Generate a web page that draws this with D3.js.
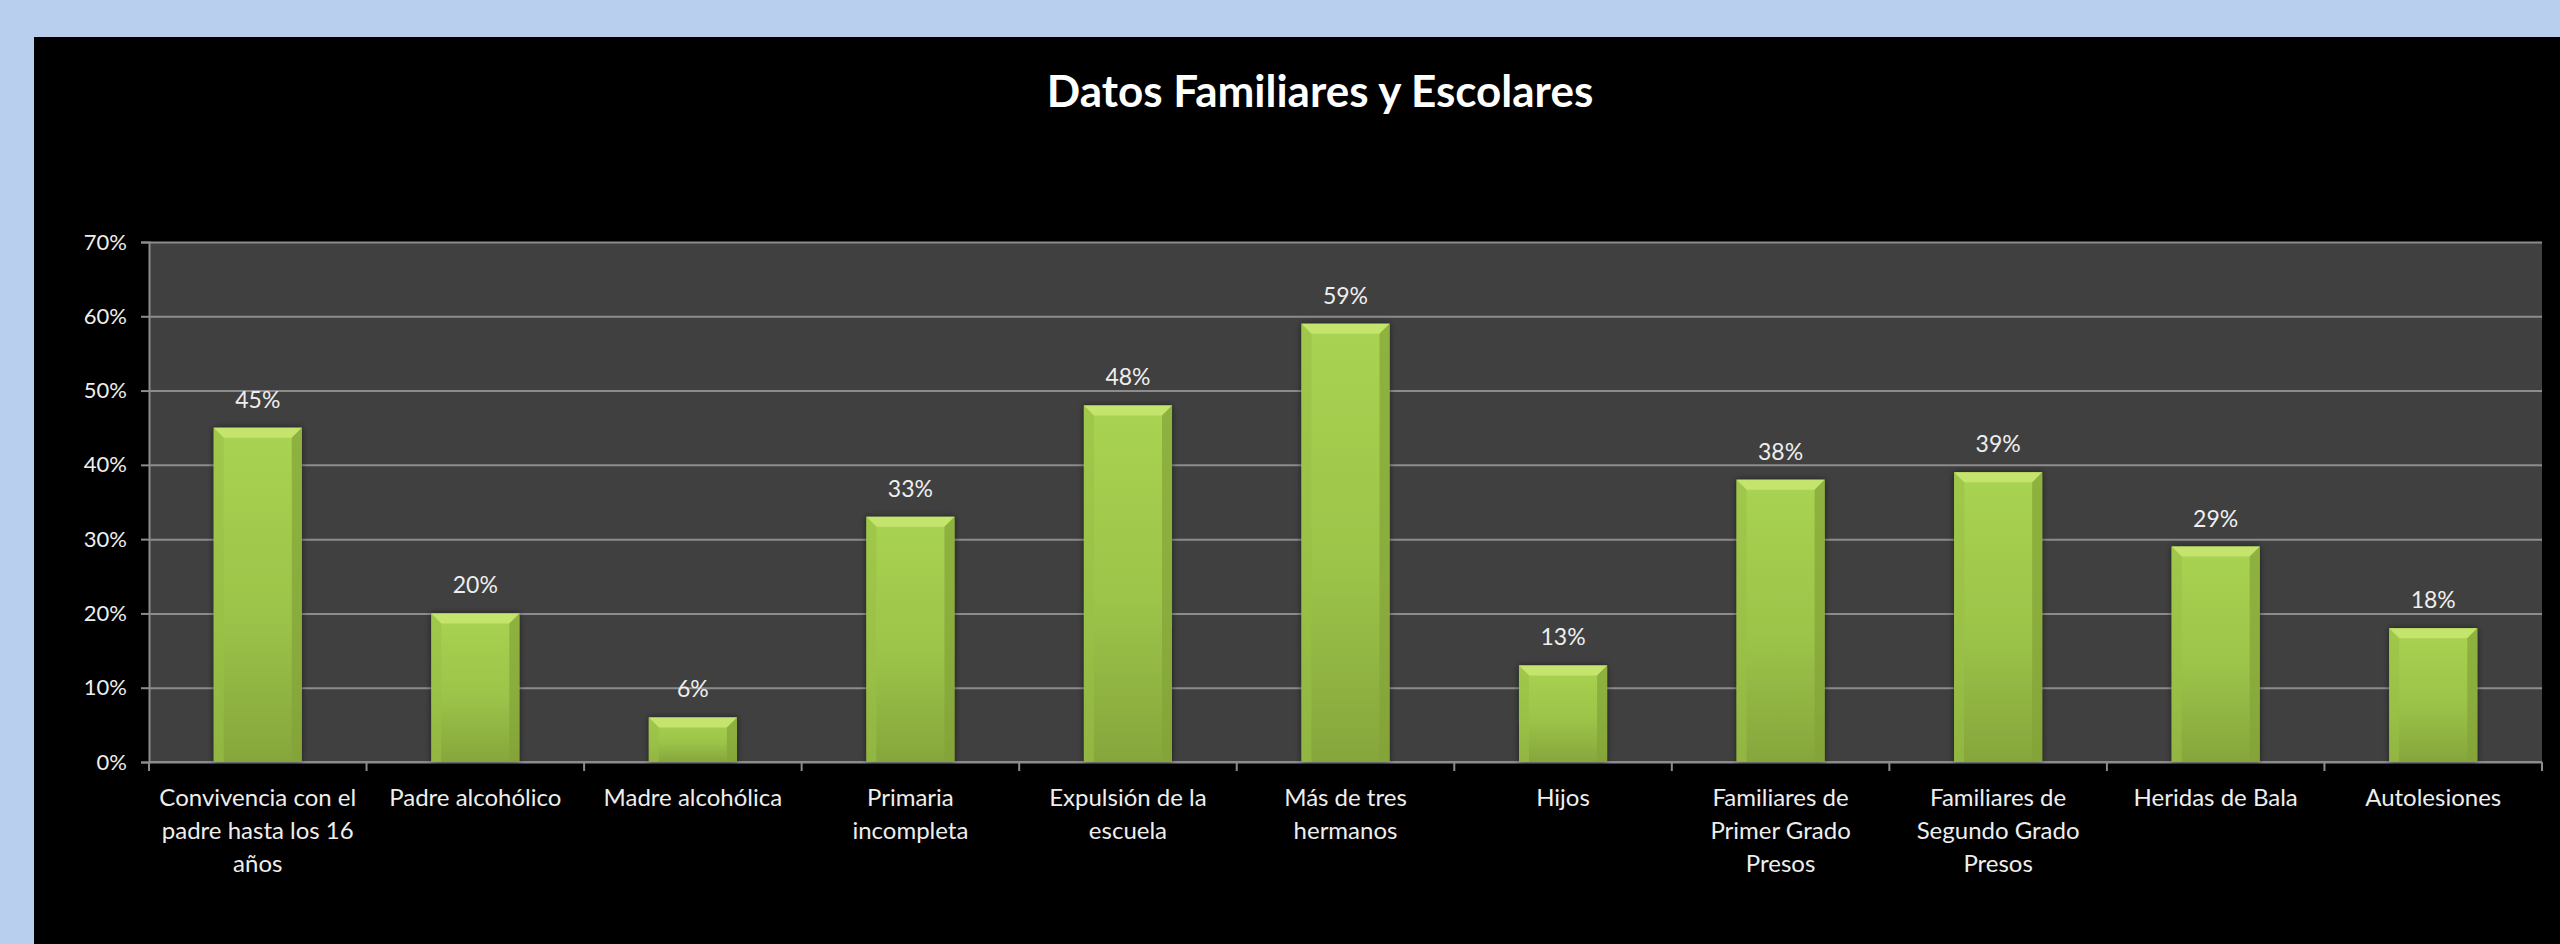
<!DOCTYPE html>
<html>
<head>
<meta charset="utf-8">
<script src="https://cdn.jsdelivr.net/npm/d3@7"></script>
<style>
  body { margin: 0; background: #b9cfee; }
  svg { display: block; }
</style>
</head>
<body>
<script>
const categories = [
  "Convivencia con el padre hasta los 16 años",
  "Padre alcohólico",
  "Madre alcohólica",
  "Primaria incompleta",
  "Expulsión de la escuela",
  "Más de tres hermanos",
  "Hijos",
  "Familiares de Primer Grado Presos",
  "Familiares de Segundo Grado Presos",
  "Heridas de Bala",
  "Autolesiones"
];
const values = [45, 20, 6, 33, 48, 59, 13, 38, 39, 29, 18];
const yTicks = [0, 10, 20, 30, 40, 50, 60, 70];
const title = "Datos Familiares y Escolares";

const w = 2560;
const h = 944;
const plotLeft = 149, plotRight = 2542, plotTop = 242, plotBottom = 762;
const font = "Lato, 'Open Sans', sans-serif";

const svg = d3.select("body")
  .append("svg")
  .attr("width", w)
  .attr("height", h);

// blue frame on top/left, black panel
svg.append("rect").attr("width", w).attr("height", h).attr("fill", "#b9cfee");
svg.append("rect")
  .attr("x", 34).attr("y", 37)
  .attr("width", w - 34).attr("height", h - 37)
  .attr("fill", "#000");

const defs = svg.append("defs");
const grad = defs.append("linearGradient")
  .attr("id", "barGrad")
  .attr("x1", 0).attr("y1", 0).attr("x2", 0).attr("y2", 1);
grad.append("stop").attr("offset", "0%").attr("stop-color", "#a9d352");
grad.append("stop").attr("offset", "55%").attr("stop-color", "#9cc449");
grad.append("stop").attr("offset", "100%").attr("stop-color", "#86a63c");

const shadow = defs.append("filter").attr("id", "shadow")
  .attr("x", "-20%").attr("y", "-20%").attr("width", "140%").attr("height", "140%");
shadow.append("feDropShadow")
  .attr("dx", 0).attr("dy", 0).attr("stdDeviation", 3)
  .attr("flood-color", "#000").attr("flood-opacity", 0.55);

const x = d3.scaleBand()
  .domain(categories)
  .range([plotLeft, plotRight])
  .paddingInner(0.595)
  .paddingOuter(0.2975);

const y = d3.scaleLinear()
  .domain([0, 70])
  .range([plotBottom, plotTop]);

// plot area
svg.append("rect")
  .attr("x", plotLeft).attr("y", y(70))
  .attr("width", plotRight - plotLeft).attr("height", y(0) - y(70))
  .attr("fill", "#404040");

// gridlines
svg.append("g")
  .attr("transform", "translate(" + plotLeft + ",0)")
  .call(d3.axisLeft(y).tickValues(yTicks).tickSize(-(plotRight - plotLeft)).tickFormat(""))
  .call(g => g.select(".domain").remove())
  .call(g => g.selectAll("line").attr("stroke", "#8c8c8c").attr("stroke-width", 2));

// y axis
const yAxis = svg.append("g")
  .attr("transform", "translate(" + plotLeft + ",0)")
  .call(d3.axisLeft(y).tickValues(yTicks).tickSize(8).tickPadding(14).tickFormat(d => d + "%"));
yAxis.select(".domain").attr("stroke", "#8c8c8c").attr("stroke-width", 2);
yAxis.selectAll("line").attr("stroke", "#8c8c8c").attr("stroke-width", 2);
yAxis.selectAll("text")
  .attr("fill", "#eeeeee")
  .style("font-family", font)
  .style("font-size", "22px");

// x axis line and ticks at category boundaries
const step = x.step();
const edges = categories.map(c => x(c) - (step - x.bandwidth()) / 2).concat([plotRight]);
const xAxis = svg.append("g");
xAxis.append("line")
  .attr("x1", plotLeft).attr("x2", plotRight)
  .attr("y1", y(0)).attr("y2", y(0))
  .attr("stroke", "#8c8c8c").attr("stroke-width", 2);
xAxis.selectAll(".xtick")
  .data(edges)
  .enter()
  .append("line")
  .attr("class", "xtick")
  .attr("x1", d => d).attr("x2", d => d)
  .attr("y1", y(0)).attr("y2", y(0) + 9)
  .attr("stroke", "#8c8c8c").attr("stroke-width", 2);

// bars
const bev = 10;
const bars = svg.selectAll(".bar")
  .data(values)
  .enter()
  .append("g")
  .attr("class", "bar");

bars.append("rect")
  .attr("x", (d, i) => x(categories[i]))
  .attr("y", d => y(d))
  .attr("width", x.bandwidth())
  .attr("height", d => y(0) - y(d))
  .attr("fill", "url(#barGrad)")
  .attr("filter", "url(#shadow)");

// top bevel
bars.append("polygon")
  .attr("points", (d, i) => {
    const x0 = x(categories[i]), x1 = x0 + x.bandwidth(), t = y(d);
    return [[x0, t], [x1, t], [x1 - bev, t + bev], [x0 + bev, t + bev]].join(" ");
  })
  .attr("fill", "#c4e46e");

// left bevel
bars.append("polygon")
  .attr("points", (d, i) => {
    const x0 = x(categories[i]), t = y(d), b = y(0);
    return [[x0, t], [x0 + bev, t + bev], [x0 + bev, b], [x0, b]].join(" ");
  })
  .attr("fill", "#9ac046")
  .attr("opacity", 0.6);

// right bevel
bars.append("polygon")
  .attr("points", (d, i) => {
    const x1 = x(categories[i]) + x.bandwidth(), t = y(d), b = y(0);
    return [[x1, t], [x1 - bev, t + bev], [x1 - bev, b], [x1, b]].join(" ");
  })
  .attr("fill", "#83a338")
  .attr("opacity", 0.7);

// value labels
svg.selectAll(".vlabel")
  .data(values)
  .enter()
  .append("text")
  .attr("class", "vlabel")
  .attr("x", (d, i) => x(categories[i]) + x.bandwidth() / 2)
  .attr("y", d => y(d) - 20)
  .attr("text-anchor", "middle")
  .attr("fill", "#eeeeee")
  .style("font-family", font)
  .style("font-size", "23px")
  .text(d => d + "%");

// category labels, wrapped to the slot width
const catG = svg.append("g");
categories.forEach(function (c) {
  const t = catG.append("text")
    .attr("text-anchor", "middle")
    .attr("fill", "#eeeeee")
    .style("font-family", font)
    .style("font-size", "24px");
  const cx = x(c) + x.bandwidth() / 2;
  const words = c.split(" ");
  let lines = [], line = [];
  const probe = t.append("tspan");
  words.forEach(function (wd) {
    line.push(wd);
    probe.text(line.join(" "));
    if (probe.node().getComputedTextLength() > 200 && line.length > 1) {
      line.pop();
      lines.push(line.join(" "));
      line = [wd];
    }
  });
  lines.push(line.join(" "));
  probe.remove();
  lines.forEach(function (l, k) {
    t.append("tspan")
      .attr("x", cx)
      .attr("y", 806 + k * 33)
      .text(l);
  });
});

// title
svg.append("text")
  .attr("x", 1320)
  .attr("y", 107)
  .attr("text-anchor", "middle")
  .attr("fill", "#ffffff")
  .style("font-family", font)
  .style("font-weight", "bold")
  .style("font-size", "44px")
  .text(title);
</script>
</body>
</html>
